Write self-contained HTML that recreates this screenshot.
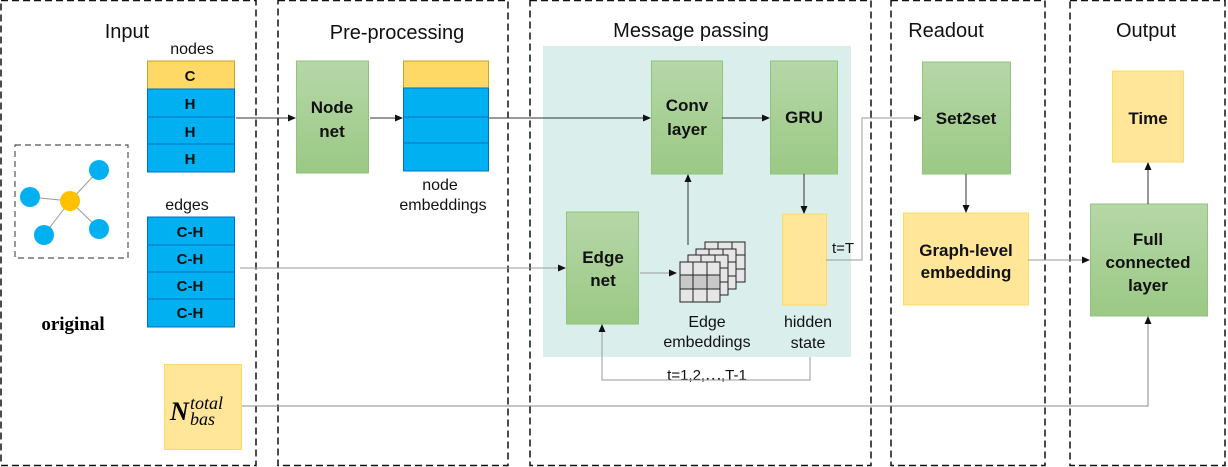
<!DOCTYPE html>
<html><head><meta charset="utf-8"><style>
html,body{margin:0;padding:0;background:#fff;}
svg{display:block;font-family:"Liberation Sans","Noto Sans CJK SC",sans-serif;}
</style></head><body>
<svg width="1228" height="467" viewBox="0 0 1228 467" xmlns="http://www.w3.org/2000/svg">
<defs>
<linearGradient id="g" x1="0" y1="0" x2="0" y2="1"><stop offset="0" stop-color="#b6d7a8"/><stop offset="1" stop-color="#9bc985"/></linearGradient>
<marker id="a" markerWidth="8" markerHeight="8" refX="7" refY="4" orient="auto" markerUnits="userSpaceOnUse"><path d="M0,0.5 L8,4 L0,7.5 z" fill="#111"/></marker>
</defs>
<g fill="none" stroke="#111" stroke-width="1.5" stroke-dasharray="7,4">
<rect x="1" y="0.5" width="255" height="465"/>
<rect x="278" y="0.5" width="230" height="465"/>
<rect x="530" y="0.5" width="341" height="465"/>
<rect x="891" y="0.5" width="154" height="465"/>
<rect x="1070" y="0.5" width="155" height="465"/>
</g>
<rect x="543" y="46" width="308" height="311" fill="#daeeec"/>
<g font-size="20" fill="#111" text-anchor="middle">
<text x="127" y="38">Input</text><text x="397" y="39">Pre-processing</text><text x="691" y="37">Message passing</text><text x="946" y="37">Readout</text><text x="1146" y="37">Output</text>
</g>
<!-- original -->
<rect x="15" y="145" width="113" height="113" fill="none" stroke="#555" stroke-width="1.2" stroke-dasharray="6,4"/>
<g stroke="#999" stroke-width="1"><line x1="70" y1="201" x2="30" y2="197"/><line x1="70" y1="201" x2="99" y2="170"/><line x1="70" y1="201" x2="44" y2="235"/><line x1="70" y1="201" x2="99" y2="229"/></g>
<g fill="#00b0f0"><circle cx="30" cy="197" r="10"/><circle cx="99" cy="170" r="10"/><circle cx="44" cy="235" r="10"/><circle cx="99" cy="229" r="10"/></g>
<circle cx="70" cy="201" r="10" fill="#ffc000"/>
<text x="73" y="330" font-family="Liberation Serif,serif" font-weight="bold" font-size="19" text-anchor="middle">original</text>
<!-- tables -->
<g font-size="16" text-anchor="middle" fill="#111">
<text x="192" y="54">nodes</text><text x="187" y="210">edges</text>
<text x="440" y="190">node</text><text x="443" y="210">embeddings</text>
<text x="707" y="327">Edge</text><text x="707" y="347">embeddings</text>
<text x="808" y="327">hidden</text><text x="808" y="348">state</text>
<text x="707" y="380" font-size="15">t=1,2,⋯,T-1</text>
<text x="843" y="253" font-size="15">t=T</text>
</g>
<g font-size="15" font-weight="bold" text-anchor="middle" fill="#111">
<rect x="147.5" y="61" width="87" height="28" fill="#ffd966" stroke="#c9a227"/>
<rect x="147.5" y="89" width="87" height="28" fill="#00b0f0" stroke="#0070c0"/>
<rect x="147.5" y="117" width="87" height="27" fill="#00b0f0" stroke="#0070c0"/>
<rect x="147.5" y="144" width="87" height="28" fill="#00b0f0" stroke="#0070c0"/>
<text x="190" y="81">C</text><text x="190" y="109">H</text><text x="190" y="137">H</text><text x="190" y="164">H</text>
<rect x="147.5" y="217" width="87" height="28" fill="#00b0f0" stroke="#0070c0"/>
<rect x="147.5" y="245" width="87" height="27" fill="#00b0f0" stroke="#0070c0"/>
<rect x="147.5" y="272" width="87" height="27" fill="#00b0f0" stroke="#0070c0"/>
<rect x="147.5" y="299" width="87" height="28" fill="#00b0f0" stroke="#0070c0"/>
<text x="190" y="237">C-H</text><text x="190" y="264">C-H</text><text x="190" y="291">C-H</text><text x="190" y="318">C-H</text>
<rect x="403.5" y="61" width="85" height="27" fill="#ffd966" stroke="#c9a227"/>
<rect x="403.5" y="88" width="85" height="29" fill="#00b0f0" stroke="#0070c0"/>
<rect x="403.5" y="117" width="85" height="26" fill="#00b0f0" stroke="#0070c0"/>
<rect x="403.5" y="143" width="85" height="28" fill="#00b0f0" stroke="#0070c0"/>
</g>
<rect x="164.5" y="364.5" width="77" height="85" fill="#ffe699" stroke="#ffd966"/>
<text x="170" y="420" font-family="Liberation Serif,serif" font-weight="bold" font-style="italic" font-size="26">N</text>
<text x="190" y="409" font-family="Liberation Serif,serif" font-style="italic" font-size="18">total</text>
<text x="190" y="425" font-family="Liberation Serif,serif" font-style="italic" font-size="18">bas</text>
<!-- green boxes -->
<g stroke="#8fc47a" fill="url(#g)">
<rect x="296.5" y="61" width="72" height="112"/>
<rect x="651.5" y="61" width="71" height="113"/>
<rect x="770.5" y="61" width="67" height="113"/>
<rect x="566.5" y="212" width="72" height="112"/>
<rect x="922.5" y="62" width="88" height="112"/>
<rect x="1090.5" y="204" width="117" height="112"/>
</g>
<g stroke="#ffd966" fill="#ffe699">
<rect x="782.5" y="214" width="44" height="91"/>
<rect x="903.5" y="213" width="125" height="92"/>
<rect x="1112.5" y="71" width="71" height="91"/>
</g>
<g font-size="17" font-weight="bold" text-anchor="middle" fill="#111">
<text x="332" y="113">Node</text><text x="332" y="137">net</text>
<text x="687" y="111">Conv</text><text x="687" y="135">layer</text>
<text x="804" y="123">GRU</text>
<text x="603" y="263">Edge</text><text x="603" y="286">net</text>
<text x="966" y="124">Set2set</text>
<text x="966" y="256">Graph-level</text><text x="966" y="278">embedding</text>
<text x="1148" y="124">Time</text>
<text x="1148" y="245">Full</text><text x="1148" y="268">connected</text><text x="1148" y="291">layer</text>
</g>
<!-- grid stack -->
<g stroke="#222" stroke-width="1">
<g transform="translate(705,242)"><rect width="40" height="40" fill="#e6e6e6"/><path d="M13,0V40M27,0V40M0,13H40M0,27H40"/></g>
<g transform="translate(696,249)"><rect width="40" height="40" fill="#e6e6e6"/><path d="M13,0V40M27,0V40M0,13H40M0,27H40"/></g>
<g transform="translate(688,255)"><rect width="40" height="40" fill="#e6e6e6"/><path d="M13,0V40M27,0V40M0,13H40M0,27H40"/></g>
<g transform="translate(680,262)"><rect width="40" height="40" fill="#e6e6e6"/><rect y="13" width="40" height="14" fill="#c8c8c8"/><path d="M13,0V40M27,0V40M0,13H40M0,27H40"/></g>
</g>
<!-- connectors -->
<g fill="none" stroke="#333" stroke-width="1" marker-end="url(#a)">
<path d="M236,118H295"/>
<path d="M370,118H402"/>
<path d="M489,118H650"/>
<path d="M722,118H769"/>
<path d="M804,174V213"/>
<path d="M240,268H565" stroke="#999"/>
<path d="M640,273H676" stroke="#999"/>
<path d="M688,245V175"/>
<path d="M826,260H862V118H921" stroke="#999"/>
<path d="M810,357V380H602V325" stroke="#999"/>
<path d="M966,174V212"/>
<path d="M1028,260H1089" stroke="#999"/>
<path d="M1148,204V163"/>
<path d="M242,406H1148V317" stroke="#888"/>
</g>
</svg>
</body></html>
